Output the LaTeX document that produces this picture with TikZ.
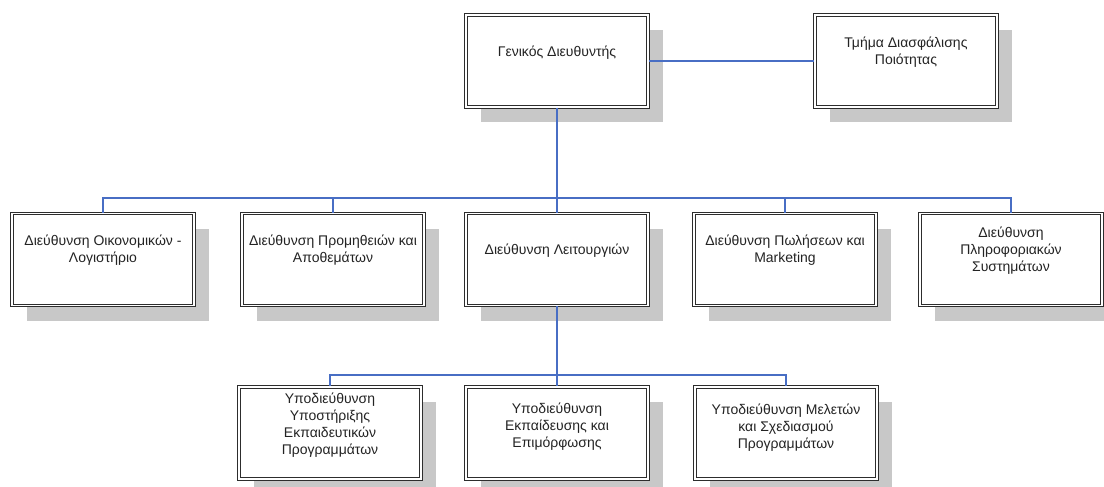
\documentclass[tikz,border=0pt]{standalone}
\usepackage{fontspec}
\setmainfont{Liberation Sans}
\usetikzlibrary{calc}
\definecolor{linkblue}{RGB}{72,110,196}
\definecolor{shadowgray}{RGB}{200,200,200}
\definecolor{frame}{RGB}{45,45,45}
\definecolor{ink}{RGB}{35,35,35}
\tikzset{
  unitbox/.style={rectangle, minimum width=182pt, minimum height=92pt, inner sep=0pt,
    fill=white, draw=frame, line width=1.2pt, double=white, double distance=1.3pt},
  shade/.style={fill=shadowgray, draw=none},
  lbl/.style={align=center, text=ink, font=\fontsize{14}{17}\selectfont, inner sep=0pt},
  link/.style={draw=linkblue, line width=1.2pt}
}
% draws a shadowed double-framed box with its label
\newcommand{\orgbox}[4]{%
  \fill[shade] ($(#2)+(-91pt+15pt,46pt-15pt)$) rectangle ($(#2)+(91pt+15pt,-46pt-15pt)$);
  \node[unitbox] (#1) at (#2) {};
  \node[lbl] (#1-t) at ([yshift=#3]#1.center) {#4};
}
\begin{document}
\begin{tikzpicture}[x=1pt,y=-1pt]
  \useasboundingbox (0,0) rectangle (1104,487);
  \clip (0,0) rectangle (1104,487);
  \fill[white] (0,0) rectangle (1104,487);

  % top level
  \orgbox{gd}{557,61}{8pt}{Γενικός Διευθυντής}
  \orgbox{qa}{906,61}{9pt}{Τμήμα Διασφάλισης\\Ποιότητας}

  % directorates
  \orgbox{d1}{103,259.5}{9pt}{Διεύθυνση Οικονομικών -\\Λογιστήριο}
  \orgbox{d2}{333,259.5}{9pt}{Διεύθυνση Προμηθειών και\\Αποθεμάτων}
  \orgbox{d3}{557,259.5}{9pt}{Διεύθυνση Λειτουργιών}
  \orgbox{d4}{785,259.5}{9pt}{Διεύθυνση Πωλήσεων και\\Marketing}
  \orgbox{d5}{1011,259.5}{9pt}{Διεύθυνση\\Πληροφοριακών\\Συστημάτων}

  % sub-directorates
  \orgbox{s1}{330,433}{8pt}{Υποδιεύθυνση\\Υποστήριξης\\Εκπαιδευτικών\\Προγραμμάτων}
  \orgbox{s2}{557,433}{6pt}{Υποδιεύθυνση\\Εκπαίδευσης και\\Επιμόρφωσης}
  \orgbox{s3}{786,433}{5pt}{Υποδιεύθυνση Μελετών\\και Σχεδιασμού\\Προγραμμάτων}

  % connectors
  \coordinate (bus1) at (557,198);
  \coordinate (bus2) at (557,375);
  \draw[link] (gd.east) -- (qa.west);
  \draw[link] (gd.south) -- (bus1);
  \draw[link] (d1.north) |- (bus1) -| (d5.north);
  \draw[link] (d2.north) -- (d2.north |- bus1);
  \draw[link] (d3.north) -- (bus1);
  \draw[link] (d4.north) -- (d4.north |- bus1);
  \draw[link] (d3.south) -- (bus2);
  \draw[link] (s1.north) |- (bus2) -| (s3.north);
  \draw[link] (s2.north) -- (bus2);
\end{tikzpicture}
\end{document}
